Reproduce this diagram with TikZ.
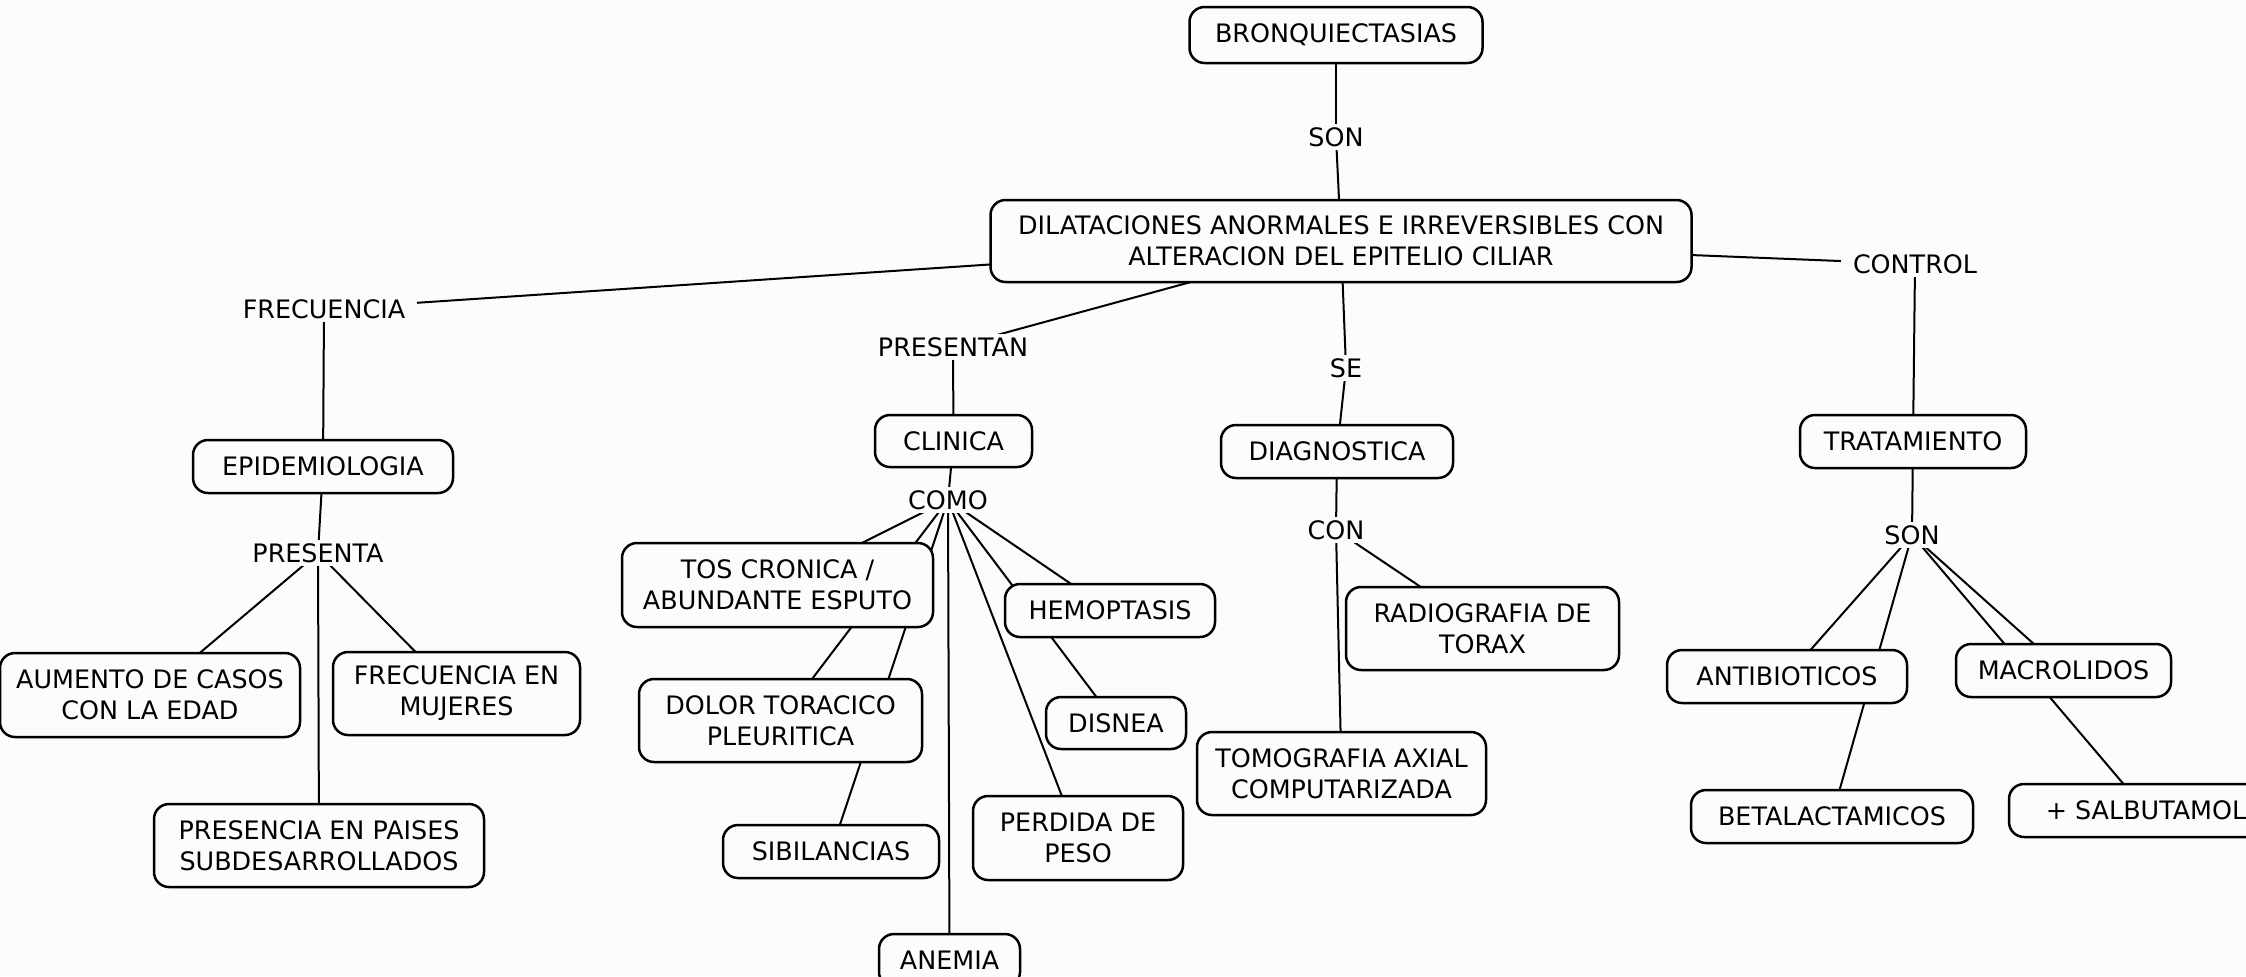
\documentclass[tikz,border=0pt]{standalone}
\usepackage{fontspec}
\setmainfont{DejaVu Sans}
\usetikzlibrary{backgrounds}
\definecolor{bgc}{RGB}{252,252,250}
\tikzset{
  basefont/.style={font=\fontsize{12.7}{15.5}\selectfont},
  concept/.style={basefont, draw=black, line width=1.25pt, rounded corners=7.5pt, fill=bgc, align=center, inner sep=0pt},
  phrase/.style={basefont, fill=bgc, inner xsep=6pt, inner ysep=1.5pt},
  sz/.style 2 args={minimum width=#1*0.5pt, minimum height=#2*0.5pt},
  link/.style={line width=1pt, black},
}
\begin{document}
\begin{tikzpicture}[x=0.5pt,y=-0.5pt]
\useasboundingbox (0,0) rectangle (2246,976);
% concepts and linking phrases
\node[concept, sz={293}{56}] (bronq) at (1336,35) {BRONQUIECTASIAS};
\node[phrase] (son1) at (1336,137) {SON};
\node[concept, sz={701}{82}] (dil) at (1341,241) {DILATACIONES ANORMALES E IRREVERSIBLES CON\\ALTERACION DEL EPITELIO CILIAR};
\node[phrase] (frec) at (324,309) {FRECUENCIA};
\node[phrase] (control) at (1915,264) {CONTROL};
\node[phrase] (presentan) at (953,347) {PRESENTAN};
\node[phrase] (se) at (1346,368) {SE};
\node[concept, sz={260}{53}] (epi) at (323,466.5) {EPIDEMIOLOGIA};
\node[phrase] (presenta) at (318,553) {PRESENTA};
\node[concept, sz={300}{84}] (aumento) at (150,695) {AUMENTO DE CASOS\\CON LA EDAD};
\node[concept, sz={247}{83}] (mujeres) at (456.5,693.5) {FRECUENCIA EN\\MUJERES};
\node[concept, sz={330}{83}] (presencia) at (319,845.5) {PRESENCIA EN PAISES\\SUBDESARROLLADOS};
\node[concept, sz={157}{52}] (clinica) at (953.5,441) {CLINICA};
\node[phrase] (como) at (948,500) {COMO};
\node[concept, sz={311}{84}] (tos) at (777.5,585) {TOS CRONICA /\\ABUNDANTE ESPUTO};
\node[concept, sz={210}{53}] (hemop) at (1110,610.5) {HEMOPTASIS};
\node[concept, sz={283}{83}] (dolor) at (780.5,720.5) {DOLOR TORACICO\\PLEURITICA};
\node[concept, sz={140}{52}] (disnea) at (1116,723) {DISNEA};
\node[concept, sz={216}{53}] (sibil) at (831,851.5) {SIBILANCIAS};
\node[concept, sz={210}{84}] (perdida) at (1078,838) {PERDIDA DE\\PESO};
\node[concept, sz={141}{53}] (anemia) at (949.5,960.5) {ANEMIA};
\node[concept, sz={232}{53}] (diag) at (1337,451.5) {DIAGNOSTICA};
\node[phrase] (con) at (1336,530) {CON};
\node[concept, sz={273}{83}] (radio) at (1482.5,628.5) {RADIOGRAFIA DE\\TORAX};
\node[concept, sz={289}{83}] (tomo) at (1341.5,773.5) {TOMOGRAFIA AXIAL\\COMPUTARIZADA};
\node[concept, sz={226}{53}] (trat) at (1913,441.5) {TRATAMIENTO};
\node[phrase] (son2) at (1912,535) {SON};
\node[concept, sz={240}{53}] (antib) at (1787,676.5) {ANTIBIOTICOS};
\node[concept, sz={215}{53}] (macro) at (2063.5,670.5) {MACROLIDOS};
\node[concept, sz={282}{53}] (beta) at (1832,816.5) {BETALACTAMICOS};
\node[concept, sz={274}{53}] (salbu) at (2146,810.5) {+ SALBUTAMOL};
% connectors behind the nodes
\begin{pgfonlayer}{background}
\fill[bgc] (0,0) rectangle (2246,976);
\draw[link] (bronq.center) -- (son1.center);
\draw[link] (son1.center) -- (dil.center);
\draw[link] (dil.center) -- (frec.center);
\draw[link] (frec.center) -- (epi.center);
\draw[link] (epi.center) -- (presenta.center);
\draw[link] (presenta.center) -- (aumento.center);
\draw[link] (presenta.center) -- (mujeres.center);
\draw[link] (presenta.center) -- (presencia.center);
\draw[link] (dil.center) -- (presentan.center);
\draw[link] (presentan.center) -- (clinica.center);
\draw[link] (clinica.center) -- (como.center);
\draw[link] (como.center) -- (tos.center);
\draw[link] (como.center) -- (dolor.center);
\draw[link] (como.center) -- (sibil.center);
\draw[link] (como.center) -- (anemia.center);
\draw[link] (como.center) -- (perdida.center);
\draw[link] (como.center) -- (disnea.center);
\draw[link] (como.center) -- (hemop.center);
\draw[link] (dil.center) -- (se.center);
\draw[link] (se.center) -- (diag.center);
\draw[link] (diag.center) -- (con.center);
\draw[link] (con.center) -- (radio.center);
\draw[link] (con.center) -- (tomo.center);
\draw[link] (dil.center) -- (control.center);
\draw[link] (control.center) -- (trat.center);
\draw[link] (trat.center) -- (son2.center);
\draw[link] (son2.center) -- (antib.center);
\draw[link] (son2.center) -- (beta.center);
\draw[link] (son2.center) -- (macro.center);
\draw[link] (son2.center) -- (salbu.center);
\end{pgfonlayer}
\end{tikzpicture}
\end{document}
